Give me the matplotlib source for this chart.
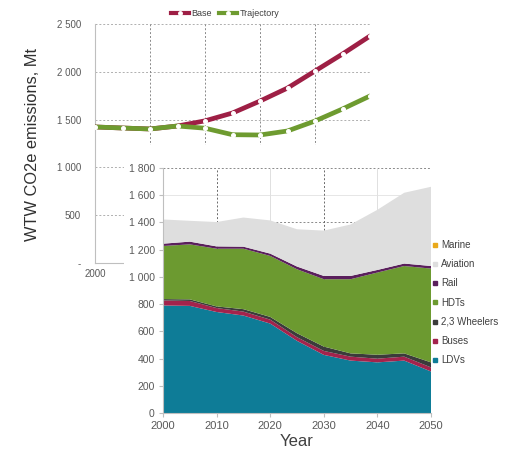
import matplotlib
matplotlib.use("Agg")
import matplotlib.pyplot as plt
from matplotlib.lines import Line2D
from matplotlib.patches import Rectangle
from matplotlib.ticker import FuncFormatter

plt.rcParams['font.family'] = ['Liberation Sans', 'DejaVu Sans']

# ---- data: top chart (WTW CO2e emissions, Mt) ----
years = [2000, 2005, 2010, 2015, 2020, 2025, 2030, 2035, 2040, 2045, 2050]
base = [1423, 1412, 1402, 1433, 1487, 1569, 1694, 1830, 2008, 2186, 2374]
trajectory = [1423, 1412, 1402, 1433, 1410, 1342, 1339, 1381, 1485, 1611, 1747]

# ---- data: bottom stacked chart ----
ldvs = [790, 787, 742, 716, 657, 530, 427, 385, 372, 385, 305]
buses = [37, 36, 29, 29, 29, 27, 29, 29, 27, 29, 30]
wheelers = [10, 12, 12, 18, 20, 29, 32, 24, 29, 24, 37]
hdts = [390, 404, 424, 444, 448, 470, 495, 545, 604, 642, 689]
rail = [17, 20, 17, 15, 17, 20, 24, 24, 19, 18, 19]
aviation = [178, 153, 179, 214, 244, 274, 333, 378, 442, 520, 582]
marine = [0, 0, 0, 0, 0, 0, 0, 0, 0, 0, 0]

stack_labels = ['LDVs', 'Buses', '2,3 Wheelers', 'HDTs', 'Rail', 'Aviation', 'Marine']
stack_colors = ['#0E7C97', '#A3234C', '#3B3B3B', '#6C9A30', '#5A1F5C', '#DEDEDE', '#E9A91B']

top_yticks = [0, 500, 1000, 1500, 2000, 2500]
top_xticks = [2000]
bot_yticks = [0, 200, 400, 600, 800, 1000, 1200, 1400, 1600, 1800]
decades = [2000, 2010, 2020, 2030, 2040, 2050]

W, H = 511, 454
fig = plt.figure(figsize=(W / 100, H / 100), dpi=100)


def px(l, t, r, b):
    return [l / W, 1 - b / H, (r - l) / W, (b - t) / H]


def thousands(v, pos=None):
    v = int(round(v))
    if v == 0:
        return '-'
    return f"{v:,}".replace(',', ' ')


tick_col = '#595959'

# ---------------- top chart ----------------
ax1 = fig.add_axes(px(95, 24, 370, 263))
ax1.set_zorder(0)
ax1.set_xlim(2000, 2050)
ax1.set_ylim(0, 2500)
base_c = '#9E1F45'
traj_c = '#6E9B30'
ax1.plot(years, base, color=base_c, lw=3.4, solid_capstyle='round', zorder=3,
         marker='o', ms=2.6, mfc='white', mec='white')
ax1.plot(years, trajectory, color=traj_c, lw=3.4, solid_capstyle='round', zorder=4,
         marker='o', ms=2.6, mfc='white', mec='white')
ax1.set_yticks(top_yticks)
ax1.yaxis.set_major_formatter(FuncFormatter(thousands))
ax1.set_xticks(top_xticks)
ax1.set_xticklabels([str(d) for d in top_xticks])
for y in top_yticks[1:]:
    ax1.axhline(y, color='#AFAFAF', lw=0.7, ls=(0, (2, 2)), zorder=1)
for x in decades[1:]:
    ax1.axvline(x, color='#8A8A8A', lw=0.7, ls=(0, (2, 2)), zorder=1)
for s in ['top', 'right']:
    ax1.spines[s].set_visible(False)
ax1.spines['left'].set_color('#BFBFBF')
ax1.spines['bottom'].set_color('#BFBFBF')
ax1.tick_params(axis='y', length=0, pad=10, labelsize=7, labelcolor=tick_col)
ax1.tick_params(axis='x', length=0, pad=4, labelsize=7, labelcolor=tick_col)

leg1 = fig.legend(
    handles=[Line2D([], [], color=base_c, lw=3, marker='o', ms=2.5, mfc='white', mec='white'),
             Line2D([], [], color=traj_c, lw=3, marker='o', ms=2.5, mfc='white', mec='white')],
    labels=['Base', 'Trajectory'], ncol=2, loc='center', bbox_to_anchor=(225 / W, 1 - 14 / H),
    frameon=False, fontsize=6.5, handlelength=2.0, handletextpad=0.3, columnspacing=0.8,
    borderpad=0, borderaxespad=0)
for t in leg1.get_texts():
    t.set_color('#404040')

fig.text(33 / W, 1 - 145 / H, 'WTW CO2e emissions, Mt', rotation=90, ha='center', va='center',
         fontsize=11.8, color='#303030')

# white panel between the two charts
fig.patches.append(Rectangle((124 / W, 0), 1 - 124 / W, 1 - 145 / H, transform=fig.transFigure,
                             facecolor='white', edgecolor='none', zorder=1))

# ---------------- bottom chart ----------------
ax2 = fig.add_axes(px(163, 168, 431, 413))
ax2.set_zorder(2)
ax2.set_facecolor('white')
ax2.set_xlim(2000, 2050)
ax2.set_ylim(0, 1800)
for y in bot_yticks[1:]:
    if y in (1400, 1800):
        ax2.axhline(y, color='#8A8A8A', lw=0.7, ls=(0, (2, 2)), zorder=0)
    else:
        ax2.axhline(y, color='#E6E6E6', lw=0.7, zorder=0)
for x in decades[1:]:
    if x in (2010, 2030):
        ax2.axvline(x, color='#6A6A6A', lw=0.7, ls=(0, (2, 2)), zorder=0)
    else:
        ax2.axvline(x, color='#E0E0E0', lw=0.7, zorder=0)
ax2.stackplot(years, ldvs, buses, wheelers, hdts, rail, aviation, marine,
              colors=stack_colors, labels=stack_labels, lw=0, zorder=2)
ax2.set_yticks(bot_yticks)
ax2.yaxis.set_major_formatter(FuncFormatter(lambda v, p: f"{int(v):,}".replace(',', ' ')))
ax2.set_xticks(decades)
for s in ['top', 'right']:
    ax2.spines[s].set_visible(False)
ax2.spines['left'].set_color('#BFBFBF')
ax2.spines['bottom'].set_color('#BFBFBF')
ax2.tick_params(axis='y', length=3, color='#BFBFBF', pad=3, labelsize=7.5, labelcolor=tick_col)
ax2.tick_params(axis='x', length=3, color='#BFBFBF', pad=3, labelsize=8, labelcolor=tick_col)
ax2.set_xlabel('Year', fontsize=12, color='#404040', labelpad=2)

handles = [Line2D([], [], marker='s', ls='', color=c, ms=3.2) for c in stack_colors]
leg2 = fig.legend(handles=handles[::-1], labels=stack_labels[::-1], loc='upper left',
                  bbox_to_anchor=(433 / W, 1 - 240 / H), frameon=False, fontsize=7,
                  labelspacing=0.95, handlelength=0.5, handletextpad=0.3,
                  borderpad=0, borderaxespad=0)
for t in leg2.get_texts():
    t.set_color('#404040')

fig.savefig('out.png', dpi=100)
